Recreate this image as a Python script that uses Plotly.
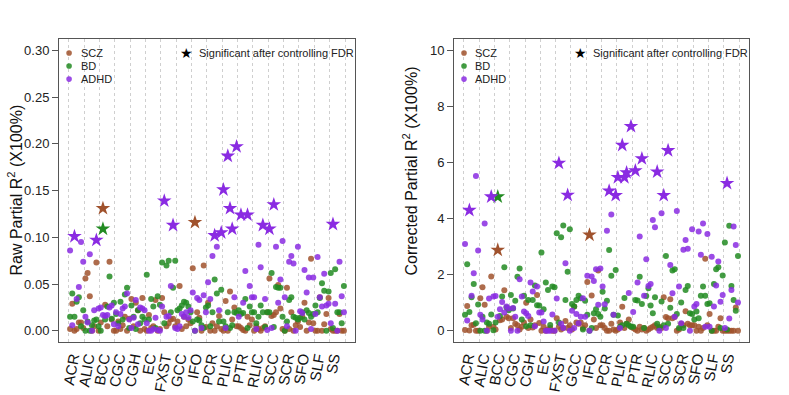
import plotly.graph_objects as go

# white-matter tracts on the x axis, 7 measures per tract
TRACTS = ["ACR", "ALIC", "BCC", "CGC", "CGH", "EC", "FXST", "GCC", "IFO",
          "PCR", "PLIC", "PTR", "RLIC", "SCC", "SCR", "SFO", "SLF", "SS"]
N_SLOT = 7

# raw partial R2, one row per tract
RAW_SCZ = [
    [0.002, 0.029, 0.000, 0.002, 0.009, 0.009, 0.003],
    [0.056, 0.062, 0.037, 0.000, 0.005, 0.073, 0.000],
    [0.009, 0.131, 0.028, 0.005, 0.074, 0.012, 0.000],
    [0.000, 0.010, 0.002, 0.006, 0.015, 0.000, 0.013],
    [0.034, 0.005, 0.030, 0.022, 0.000, 0.035, 0.002],
    [0.000, 0.017, 0.003, 0.005, 0.033, 0.000, 0.002],
    [0.035, 0.020, 0.005, 0.008, 0.012, 0.013, 0.005],
    [0.010, 0.048, 0.002, 0.015, 0.005, 0.012, 0.008],
    [0.067, 0.116, 0.020, 0.014, 0.000, 0.070, 0.004],
    [0.030, 0.000, 0.008, 0.000, 0.005, 0.016, 0.002],
    [0.000, 0.032, 0.000, 0.042, 0.012, 0.025, 0.005],
    [0.005, 0.003, 0.001, 0.000, 0.015, 0.006, 0.012],
    [0.000, 0.005, 0.002, 0.000, 0.003, 0.005, 0.020],
    [0.056, 0.016, 0.017, 0.020, 0.049, 0.024, 0.002],
    [0.000, 0.046, 0.002, 0.020, 0.000, 0.006, 0.010],
    [0.004, 0.015, 0.030, 0.000, 0.009, 0.077, 0.008],
    [0.000, 0.000, 0.036, 0.000, 0.007, 0.018, 0.035],
    [0.002, 0.000, 0.000, 0.000, 0.018, 0.000, 0.000],
]
RAW_BD = [
    [0.015, 0.040, 0.015, 0.031, 0.036, 0.005, 0.022],
    [0.000, 0.010, 0.000, 0.006, 0.011, 0.012, 0.005],
    [0.000, 0.109, 0.012, 0.026, 0.058, 0.013, 0.030],
    [0.018, 0.008, 0.031, 0.012, 0.039, 0.046, 0.003],
    [0.027, 0.015, 0.002, 0.022, 0.008, 0.015, 0.012],
    [0.060, 0.012, 0.034, 0.026, 0.003, 0.037, 0.028],
    [0.073, 0.008, 0.070, 0.075, 0.020, 0.046, 0.075],
    [0.022, 0.024, 0.027, 0.031, 0.030, 0.026, 0.020],
    [0.010, 0.000, 0.012, 0.011, 0.006, 0.003, 0.025],
    [0.027, 0.005, 0.020, 0.055, 0.040, 0.010, 0.044],
    [0.010, 0.005, 0.020, 0.003, 0.006, 0.020, 0.019],
    [0.022, 0.018, 0.019, 0.034, 0.003, 0.026, 0.020],
    [0.020, 0.008, 0.015, 0.027, 0.020, 0.004, 0.020],
    [0.020, 0.062, 0.004, 0.047, 0.046, 0.046, 0.015],
    [0.000, 0.010, 0.033, 0.036, 0.015, 0.014, 0.012],
    [0.014, 0.020, 0.012, 0.022, 0.019, 0.015, 0.018],
    [0.027, 0.020, 0.035, 0.051, 0.043, 0.000, 0.042],
    [0.062, 0.003, 0.066, 0.020, 0.020, 0.008, 0.048],
]
RAW_ADHD = [
    [0.086, 0.006, 0.101, 0.034, 0.047, 0.095, 0.074],
    [0.015, 0.009, 0.082, 0.000, 0.022, 0.097, 0.024],
    [0.025, 0.017, 0.016, 0.017, 0.025, 0.027, 0.007],
    [0.020, 0.005, 0.018, 0.024, 0.026, 0.040, 0.012],
    [0.003, 0.014, 0.033, 0.007, 0.025, 0.024, 0.022],
    [0.008, 0.000, 0.000, 0.002, 0.014, 0.001, 0.000],
    [0.026, 0.139, 0.015, 0.016, 0.048, 0.113, 0.003],
    [0.002, 0.005, 0.018, 0.015, 0.020, 0.014, 0.022],
    [0.041, 0.000, 0.035, 0.033, 0.003, 0.038, 0.020],
    [0.052, 0.034, 0.080, 0.102, 0.090, 0.022, 0.105],
    [0.151, 0.003, 0.187, 0.131, 0.109, 0.036, 0.197],
    [0.015, 0.124, 0.030, 0.064, 0.124, 0.048, 0.036],
    [0.036, 0.002, 0.092, 0.068, 0.113, 0.034, 0.001],
    [0.109, 0.003, 0.135, 0.090, 0.030, 0.055, 0.096],
    [0.036, 0.005, 0.074, 0.080, 0.072, 0.000, 0.090],
    [0.021, 0.019, 0.065, 0.041, 0.057, 0.002, 0.057],
    [0.018, 0.079, 0.036, 0.026, 0.061, 0.027, 0.029],
    [0.008, 0.114, 0.029, 0.000, 0.074, 0.037, 0.020],
]

# corrected partial R2 (X100%)
COR_SCZ = [
    [0.03, 0.89, 0.01, 0.20, 0.22, 0.00, 0.00],
    [1.16, 1.55, 0.93, 0.00, 0.15, 1.94, 0.15],
    [0.05, 2.88, 0.38, 0.40, 1.45, 0.50, 0.45],
    [0.10, 0.45, 0.25, 0.20, 0.05, 0.15, 0.30],
    [1.00, 0.10, 0.40, 0.12, 0.20, 1.28, 0.28],
    [0.00, 0.15, 0.00, 0.05, 0.10, 0.00, 0.00],
    [0.45, 0.15, 0.05, 0.10, 0.35, 0.10, 0.20],
    [0.05, 0.87, 0.30, 0.25, 0.30, 0.10, 0.20],
    [1.74, 3.42, 1.26, 0.40, 0.10, 2.15, 0.20],
    [0.20, 0.10, 0.00, 0.00, 0.25, 0.05, 0.00],
    [0.05, 0.30, 0.86, 0.10, 0.25, 0.40, 0.15],
    [0.10, 0.05, 0.00, 0.15, 0.05, 0.10, 0.00],
    [0.05, 0.10, 0.15, 0.20, 0.10, 0.15, 0.10],
    [1.20, 0.49, 0.45, 1.13, 0.45, 0.49, 0.00],
    [0.05, 0.25, 0.20, 0.70, 0.25, 0.20, 0.20],
    [0.20, 0.00, 0.15, 0.00, 0.10, 2.57, 0.20],
    [0.60, 0.00, 0.00, 0.00, 0.15, 0.45, 0.00],
    [0.00, 0.00, 0.00, 0.00, 0.00, 0.83, 0.00],
]
COR_BD = [
    [0.57, 2.37, 0.67, 1.20, 1.67, 0.27, 0.94],
    [0.00, 0.50, 0.00, 0.30, 0.25, 0.58, 0.02],
    [0.30, 4.78, 0.53, 1.22, 2.27, 0.83, 0.73],
    [1.28, 0.80, 1.07, 1.93, 2.22, 0.40, 1.25],
    [0.16, 1.10, 0.20, 1.10, 1.62, 0.91, 0.90],
    [2.79, 0.77, 1.72, 1.46, 0.21, 1.58, 1.55],
    [3.48, 0.30, 3.34, 3.76, 1.10, 2.11, 3.62],
    [0.96, 0.87, 1.10, 1.25, 1.16, 0.05, 1.07],
    [0.57, 0.00, 0.10, 0.63, 0.77, 0.60, 0.50],
    [1.39, 0.80, 1.07, 2.88, 1.96, 0.57, 2.17],
    [0.55, 0.15, 0.20, 1.17, 0.25, 0.20, 0.15],
    [0.15, 1.10, 1.08, 1.93, 0.96, 0.10, 1.24],
    [1.52, 0.90, 0.63, 1.20, 0.25, 0.10, 1.05],
    [0.20, 2.67, 0.25, 0.82, 2.15, 2.20, 0.60],
    [0.10, 1.01, 0.10, 1.46, 1.60, 0.63, 0.60],
    [0.40, 0.69, 0.45, 1.25, 1.58, 1.25, 0.96],
    [0.98, 0.00, 1.67, 2.20, 2.27, 0.10, 1.97],
    [3.15, 0.05, 3.75, 1.60, 1.10, 0.72, 2.67],
]
COR_ADHD = [
    [3.10, 0.37, 4.30, 1.25, 2.05, 5.52, 2.86],
    [0.57, 0.40, 3.83, 0.00, 1.15, 4.78, 1.22],
    [1.24, 0.50, 0.77, 1.03, 0.65, 0.87, 0.80],
    [0.00, 0.81, 0.50, 0.00, 1.84, 1.22, 0.69],
    [0.63, 0.53, 1.72, 1.40, 0.16, 1.58, 0.65],
    [0.65, 0.33, 0.00, 0.00, 0.00, 0.58, 0.00],
    [1.15, 5.98, 0.25, 0.10, 2.41, 4.84, 0.00],
    [0.72, 0.10, 0.60, 0.27, 0.50, 1.16, 0.50],
    [1.96, 0.00, 1.94, 1.78, 2.20, 0.93, 2.22],
    [1.58, 0.95, 3.57, 4.99, 4.15, 0.57, 4.83],
    [5.47, 0.10, 6.62, 5.47, 5.64, 1.35, 7.29],
    [0.67, 5.71, 1.72, 3.36, 6.14, 1.25, 2.55],
    [1.60, 1.67, 3.95, 3.69, 5.67, 0.00, 4.19],
    [4.83, 0.10, 6.43, 2.35, 1.34, 0.50, 4.27],
    [1.58, 0.27, 2.89, 3.24, 2.93, 0.00, 3.62],
    [0.87, 0.96, 3.54, 2.71, 3.83, 0.15, 3.45],
    [0.15, 2.64, 0.87, 1.62, 2.47, 1.04, 1.28],
    [0.10, 5.26, 0.44, 1.46, 3.72, 3.06, 1.01],
]

# (tract, measure slot) significant after FDR
SIG_SCZ = [("BCC", 1), ("IFO", 1)]
SIG_BD = [("BCC", 1)]
SIG_ADHD = [("ACR", 2), ("ALIC", 5), ("FXST", 1), ("FXST", 5), ("PCR", 3), ("PCR", 6),
            ("PLIC", 0), ("PLIC", 2), ("PLIC", 3), ("PLIC", 4), ("PLIC", 6),
            ("PTR", 1), ("PTR", 4), ("RLIC", 4), ("SCC", 0), ("SCC", 2), ("SS", 1)]

DISORDERS = ["SCZ", "BD", "ADHD"]
COLORS = {"SCZ": "#A0522D", "BD": "#228B22", "ADHD": "#8A2BE2"}
SIGS = {"SCZ": SIG_SCZ, "BD": SIG_BD, "ADHD": SIG_ADHD}
RAW = {"SCZ": RAW_SCZ, "BD": RAW_BD, "ADHD": RAW_ADHD}
COR = {"SCZ": COR_SCZ, "BD": COR_BD, "ADHD": COR_ADHD}

FONT = "Liberation Sans, Arial, Helvetica, sans-serif"
BOX = "#555555"


def add_panel(fig, values, xa, ya):
    stars = []
    for d in DISORDERS:
        sig = {(TRACTS.index(t), j) for t, j in SIGS[d]}
        xs, ys, sx, sy = [], [], [], []
        for i, row in enumerate(values[d]):
            for j, v in enumerate(row):
                x = i + (j + 0.5) / N_SLOT
                if (i, j) in sig:
                    sx.append(x)
                    sy.append(v)
                else:
                    xs.append(x)
                    ys.append(v)
        fig.add_trace(go.Scatter(
            x=xs, y=ys, mode="markers", xaxis=xa, yaxis=ya, showlegend=False,
            marker=dict(color=COLORS[d], size=6, opacity=0.85, line=dict(width=0)),
        ))
        stars.append((d, sx, sy))
    for d, sx, sy in stars:
        fig.add_trace(go.Scatter(
            x=sx, y=sy, mode="markers", xaxis=xa, yaxis=ya, showlegend=False,
            marker=dict(color=COLORS[d], symbol="star", size=11, line=dict(width=0)),
        ))


def add_legend(fig, xa, ya):
    xd, yd = f"{xa} domain", f"{ya} domain"
    for k, d in enumerate(DISORDERS):
        yy = 0.954 - k * 0.043
        fig.add_shape(
            type="circle", xref=xd, yref=yd, xsizemode="pixel", ysizemode="pixel",
            xanchor=0.034, yanchor=yy, x0=-2.8, x1=2.8, y0=-2.8, y1=2.8,
            fillcolor=COLORS[d], opacity=0.85, line=dict(width=0),
        )
        fig.add_annotation(
            x=0.066, y=yy, xref=xd, yref=yd, text=d, showarrow=False,
            xanchor="left", yanchor="middle", font=dict(size=11, color="#222"),
        )
    fig.add_annotation(
        x=0.43, y=0.954, xref=xd, yref=yd, text="★", showarrow=False,
        xanchor="center", yanchor="middle",
        font=dict(size=14, color="black", family="DejaVu Sans"),
    )
    fig.add_annotation(
        x=0.466, y=0.954, xref=xd, yref=yd, text="Significant after controlling FDR",
        showarrow=False, xanchor="left", yanchor="middle",
        font=dict(size=11, color="#222"),
    )


def add_ytitle(fig, text, x_px):
    fig.add_annotation(
        x=x_px / 789, y=1 - 278 / 395, xref="paper", yref="paper", text=text,
        textangle=-90, showarrow=False, xanchor="center", yanchor="bottom",
        font=dict(size=16, color="#111"),
    )


fig = go.Figure()
add_panel(fig, RAW, "x", "y")
add_panel(fig, COR, "x2", "y2")
add_legend(fig, "x", "y")
add_legend(fig, "x2", "y2")
add_ytitle(fig, "Raw Partial R<sup>2</sup> (X100%)", 15)
add_ytitle(fig, "Corrected Partial R<sup>2</sup> (X100%)", 410)

xaxis_common = dict(
    range=[-0.65, 18.65],
    tickmode="array",
    tickvals=list(range(len(TRACTS) + 1)),
    ticktext=TRACTS + [""],
    tickangle=-80,
    tickfont=dict(size=15, color="#111"),
    ticklabelshift=3,
    ticks="",
    showgrid=True,
    gridcolor="#cfcfcf",
    griddash="3px,3px",
    gridwidth=1,
    zeroline=False,
    showline=True,
    mirror=True,
    linecolor=BOX,
    linewidth=1,
)
yaxis_common = dict(
    ticks="outside",
    ticklen=6,
    tickcolor=BOX,
    tickfont=dict(size=13, color="#222"),
    showgrid=False,
    zeroline=False,
    showline=True,
    mirror=True,
    linecolor=BOX,
    linewidth=1,
)

fig.update_layout(
    width=789,
    height=395,
    margin=dict(l=0, r=0, t=0, b=0),
    paper_bgcolor="white",
    plot_bgcolor="white",
    font=dict(family=FONT, color="#222"),
    showlegend=False,
    xaxis=dict(domain=[0.0748, 0.4499], anchor="y", **xaxis_common),
    xaxis2=dict(domain=[0.5754, 0.9493], anchor="y2", **xaxis_common),
    yaxis=dict(
        domain=[0.134, 0.901], anchor="x", range=[-0.012, 0.312],
        tickvals=[0, 0.05, 0.10, 0.15, 0.20, 0.25, 0.30], tickformat=".2f",
        **yaxis_common,
    ),
    yaxis2=dict(
        domain=[0.134, 0.901], anchor="x2", range=[-0.4, 10.4],
        tickvals=[0, 2, 4, 6, 8, 10],
        **yaxis_common,
    ),
)

fig.write_html("out.html", config={"displayModeBar": False},
               post_script="document.body.style.margin='0px';")
